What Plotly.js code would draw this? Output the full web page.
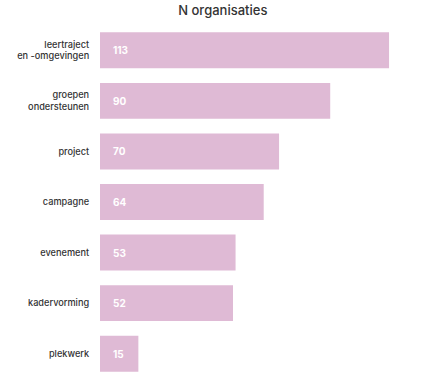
<!DOCTYPE html>
<html>
<head>
<meta charset="utf-8">
<script src="https://cdn.plot.ly/plotly-3.0.1.min.js"></script>
<style>html,body{margin:0;padding:0;background:#fff;}#chart{width:426px;height:391px;}</style>
</head>
<body>
<div id="chart"></div>
<script>
var categories = ["leertraject<br>en -omgevingen", "groepen<br>ondersteunen", "project", "campagne", "evenement", "kadervorming", "plekwerk"];
var values = [113, 90, 70, 64, 53, 52, 15];
var chartTitle = "N organisaties";

var barColor = "#dfbad5";

var trace = {
  type: "bar",
  orientation: "h",
  y: categories,
  x: values,
  marker: {color: barColor},
  hoverinfo: "none"
};

var annotations = values.map(function (v, i) {
  return {
    x: 0, y: categories[i], xref: "x", yref: "y",
    text: "<b>" + v + "</b>", showarrow: false,
    xanchor: "left", xshift: 11,
    font: {family: "Inter, sans-serif", size: 10, color: "#ffffff"}
  };
});

var layout = {
  width: 426, height: 391,
  margin: {l: 100, r: 6, t: 25, b: 12, pad: 0},
  paper_bgcolor: "#ffffff", plot_bgcolor: "#ffffff",
  showlegend: false,
  bargap: 0.29,
  title: {
    text: chartTitle,
    x: 0.523, xanchor: "center", y: 0.972, yanchor: "middle",
    font: {family: "Inter, sans-serif", size: 13, color: "#333333", weight: 500}
  },
  xaxis: {range: [0, 125.1], showgrid: false, zeroline: false, showticklabels: false, ticks: "", showline: false, fixedrange: true},
  yaxis: {autorange: "reversed", showgrid: false, zeroline: false, showline: false, ticks: "outside", ticklen: 8, tickcolor: "rgba(0,0,0,0)",
    tickfont: {family: "Inter, sans-serif", size: 9.2, color: "#333333", weight: 500}, fixedrange: true},
  annotations: annotations
};

Plotly.newPlot("chart", [trace], layout, {displayModeBar: false, staticPlot: true});
</script>
</body>
</html>
